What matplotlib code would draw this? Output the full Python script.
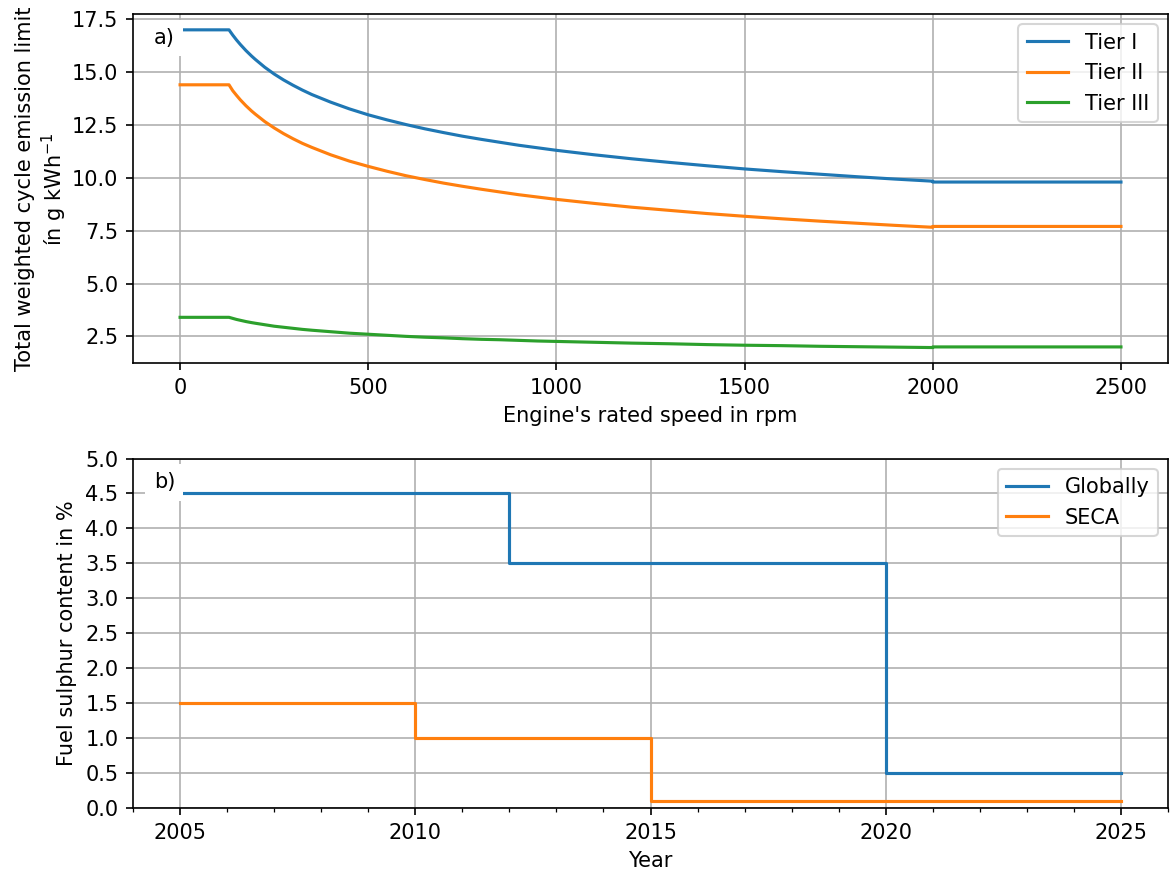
import matplotlib
matplotlib.use("Agg")
import matplotlib.pyplot as plt
import numpy as np

# NOx limits (g/kWh) vs rated engine speed
rpm = [0, 130, 140, 150, 160, 175, 190, 200, 225, 250, 275, 300, 325, 350,
       400, 450, 500, 550, 600, 650, 700, 750, 800, 850, 900, 950, 1000,
       1100, 1200, 1300, 1400, 1500, 1600, 1700, 1800, 1900, 2000, 2000, 2500]
tier1 = [17.0, 17.0, 16.75, 16.52, 16.31, 16.02, 15.76, 15.60, 15.23, 14.91,
         14.63, 14.38, 14.15, 13.94, 13.58, 13.26, 12.98, 12.74, 12.52, 12.32,
         12.14, 11.97, 11.82, 11.68, 11.54, 11.42, 11.30, 11.09, 10.90, 10.73,
         10.57, 10.42, 10.29, 10.17, 10.05, 9.94, 9.84, 9.8, 9.8]
tier2 = [14.4, 14.4, 14.12, 13.90, 13.69, 13.41, 13.16, 13.01, 12.66, 12.36,
         12.09, 11.85, 11.63, 11.44, 11.09, 10.79, 10.54, 10.31, 10.10, 9.92,
         9.75, 9.60, 9.46, 9.33, 9.20, 9.09, 8.98, 8.79, 8.61, 8.46,
         8.31, 8.18, 8.06, 7.95, 7.85, 7.75, 7.66, 7.7, 7.7]
tier3 = [3.4, 3.4, 3.35, 3.30, 3.26, 3.20, 3.15, 3.12, 3.05, 2.98,
         2.93, 2.88, 2.83, 2.79, 2.72, 2.65, 2.60, 2.55, 2.50, 2.46,
         2.43, 2.39, 2.36, 2.34, 2.31, 2.28, 2.26, 2.22, 2.18, 2.15,
         2.11, 2.08, 2.06, 2.03, 2.01, 1.99, 1.97, 2.0, 2.0]

# fuel sulphur caps (%)
glob_years = [2005, 2012, 2020, 2025]
glob_sulphur = [4.5, 3.5, 0.5, 0.5]
seca_years = [2005, 2010, 2015, 2025]
seca_sulphur = [1.5, 1.0, 0.1, 0.1]

fig, (ax1, ax2) = plt.subplots(2, 1, figsize=(7.8, 872/150), dpi=150)
fig.subplots_adjust(left=0.1137, right=0.9983, top=0.984, bottom=0.0734, hspace=0.272)

ax1.plot(rpm, tier1, label="Tier I")
ax1.plot(rpm, tier2, label="Tier II")
ax1.plot(rpm, tier3, label="Tier III")
ax1.set_xlabel("Engine's rated speed in rpm")
ax1.set_ylabel("Total weighted cycle emission limit\nín g kWh$^{-1}$", labelpad=1.5)
ax1.grid(True)
ax1.legend(loc="upper right")
ax1.text(0.02, 0.96, "a)", transform=ax1.transAxes, va="top", ha="left",
         bbox=dict(facecolor="white", edgecolor="none"), zorder=5)

ax2.plot(glob_years, glob_sulphur, drawstyle="steps-post", label="Globally")
ax2.plot(seca_years, seca_sulphur, drawstyle="steps-post", label="SECA")
ax2.set_xlabel("Year")
ax2.set_ylabel("Fuel sulphur content in %")
ax2.set_ylim(0, 5)
ax2.set_yticks(np.arange(0, 5.01, 0.5))
ax2.set_xticks([2005, 2010, 2015, 2020, 2025])
ax2.set_xticks(range(2004, 2027), minor=True)
ax2.grid(True)
ax2.legend(loc="upper right")
ax2.text(0.02, 0.96, "b)", transform=ax2.transAxes, va="top", ha="left",
         bbox=dict(facecolor="white", edgecolor="none"), zorder=5)

fig.savefig("out.png", dpi=150)
